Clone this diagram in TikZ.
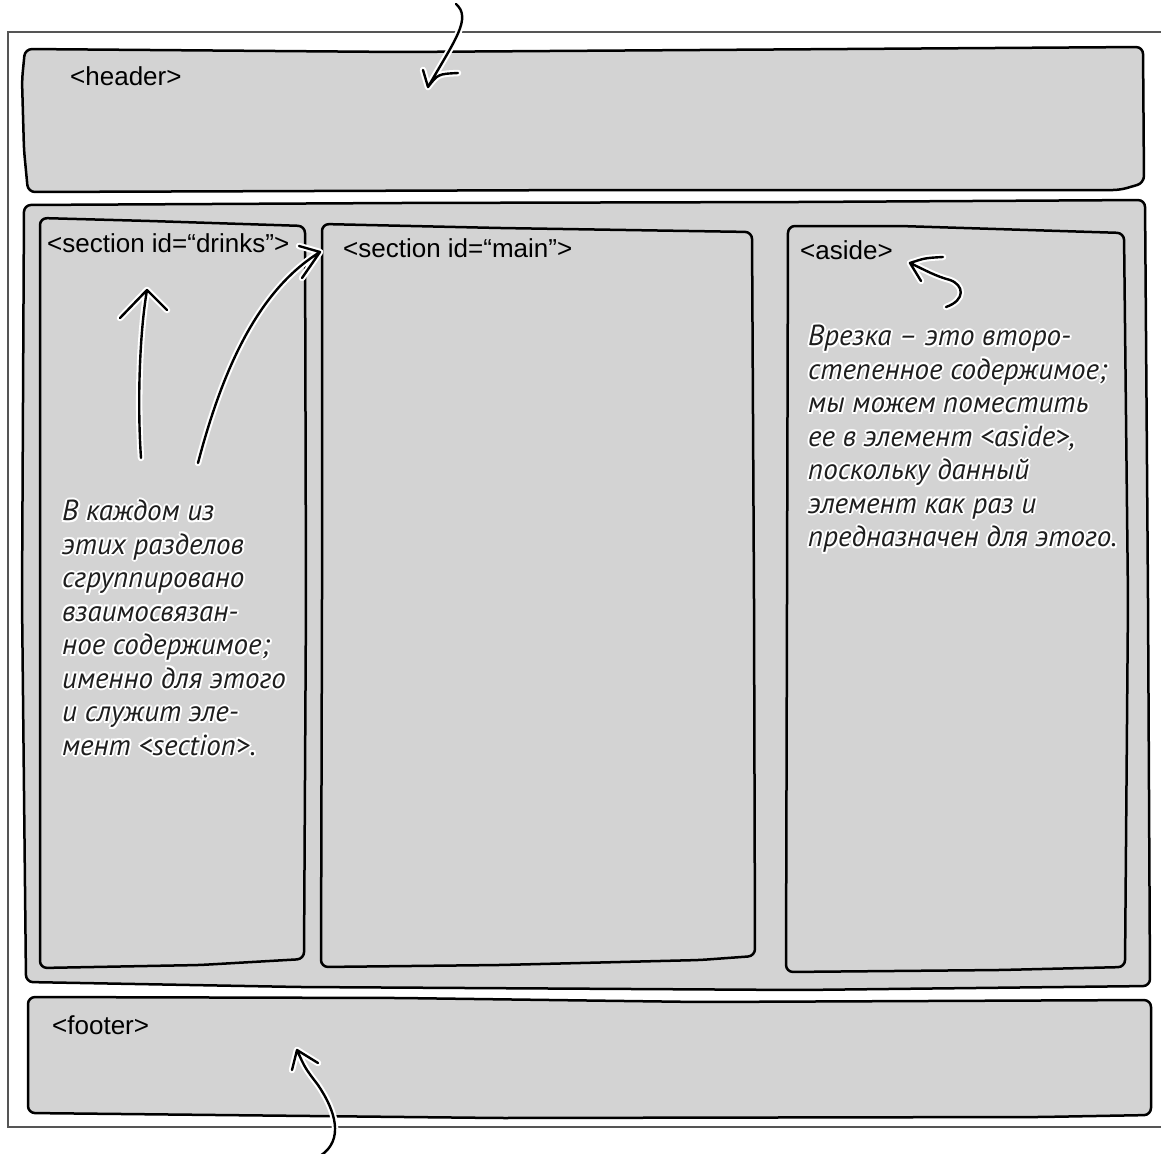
\documentclass[tikz,border=0pt]{standalone}
\usepackage{fontspec}
\newfontfamily\labelfont{Liberation Sans}
\newfontfamily\handfont{PT Sans}
\definecolor{boxgray}{RGB}{211,211,211}
\definecolor{framegray}{RGB}{85,85,85}
\definecolor{inkgray}{RGB}{30,30,30}
\tikzset{
 boxshape/.style={fill=boxgray, draw=black, line width=2.5pt, rounded corners=7pt, line join=round},
 outerframe/.style={draw=framegray, line width=2.6pt},
 tagtext/.style={font=\labelfont\fontsize{26}{30}\selectfont, anchor=base west, inner sep=0pt, text=black},
 notetext/.style={font=\handfont\itshape\fontsize{29}{33.5}\selectfont, align=left, anchor=north west, inner sep=0pt, text=inkgray},
 halotext/.style={notetext, text=white},
 pointerline/.style={draw=black, line width=2.4pt, line cap=round, line join=round,
   preaction={draw=white, line width=6.5pt, line cap=round, line join=round}},
}
\newcommand{\handnote}[3]{%
 \foreach \hx/\hy in {2/0,-2/0,0/2,0/-2,1.5/1.5,1.5/-1.5,-1.5/1.5,-1.5/-1.5}{%
   \node[halotext, xshift=\hx pt, yshift=\hy pt] at (#2) {#3};}%
 \node[notetext] (#1) at (#2) {#3};}
\begin{document}
\begin{tikzpicture}[x=1pt,y=-1pt]
\useasboundingbox (0,0) rectangle (1161,1153);
% outer page frame
\draw[outerframe] (1162,32) -- (8,32) -- (8,1127) -- (1162,1127);
% header
\draw[boxshape] (25,49) -- (400,52) -- (700,50) -- (1143,47) -- (1144,183) -- (1120,190) -- (600,190) -- (28,192) -- (24,150) -- (22,80) -- cycle;
% main container
\draw[boxshape] (24,205) -- (400,203) -- (800,202) -- (1145,200) -- (1148,600) -- (1150,986) -- (800,990) -- (300,987) -- (26,982) -- (22,600) -- cycle;
% section drinks
\draw[boxshape] (40,218) -- (150,221) -- (305,226) -- (306,600) -- (304,959) -- (200,965) -- (40,968) -- (40,600) -- cycle;
% section main
\draw[boxshape] (322,224) -- (500,228) -- (752,232) -- (754,600) -- (755,956) -- (700,960) -- (500,965) -- (321,967) -- (322,600) -- cycle;
% aside
\draw[boxshape] (788,226) -- (900,226) -- (1124,233) -- (1128,600) -- (1125,967) -- (1000,970) -- (786,972) -- (787,600) -- cycle;
% footer
\draw[boxshape] (28,997) -- (400,998) -- (700,1002) -- (1151,1000) -- (1151,1115) -- (1040,1117) -- (500,1118) -- (28,1113) -- cycle;
% labels
\node[tagtext] (lheader) at (70,86) {<header>};
\node[tagtext] (ldrinks) at (47,252) {<section id=“drinks”>};
\node[tagtext] (lmain) at (343,257) {<section id=“main”>};
\node[tagtext] (laside) at (800,259) {<aside>};
\node[tagtext] (lfooter) at (52,1034) {<footer>};
% hand notes
\handnote{nsection}{62,500}{В каждом из\\этих разделов\\сгруппировано\\взаимосвязан-\\ное содержимое;\\именно для этого\\и служит эле-\\мент <section>.}
\handnote{naside}{808,325}{Врезка – это второ-\\степенное содержимое;\\мы можем поместить\\ее в элемент <aside>,\\поскольку данный\\элемент как раз и\\предназначен для этого.}
% arrow coordinates
\coordinate (topTail) at (456,4);
\coordinate (topTip) at (428,87);
\coordinate (upTail) at (141,458);
\coordinate (upTip) at (147,290);
\coordinate (curTail) at (198,463);
\coordinate (curTip) at (320,252);
\coordinate (asTip) at (910,263);
\coordinate (asTail) at (946,307);
\coordinate (ftTip) at (297,1050);
\coordinate (ftTail) at (320,1156);
% arrows
\draw[pointerline] (topTail) .. controls (472,18) and (455,40) .. (topTip)
  (423,70) -- (topTip) .. controls (438,74) .. (458,73);
\draw[pointerline] (upTail) .. controls (137,400) and (140,330) .. (upTip)
  (120,318) -- (upTip) -- (167,310);
\draw[pointerline] (curTail) .. controls (225,360) and (262,288) .. (curTip)
  (299,246) -- (curTip) -- (302,278);
\draw[pointerline] (asTail) .. controls (966,300) and (964,285) .. (950,280) .. controls (935,276) and (925,270) .. (asTip)
  (943,257) .. controls (925,258) .. (asTip) -- (921,281);
\draw[pointerline] (ftTail) .. controls (345,1140) and (335,1110) .. (318,1085) .. controls (305,1068) .. (ftTip)
  (292,1070) -- (ftTip) -- (318,1063);
\end{tikzpicture}
\end{document}
